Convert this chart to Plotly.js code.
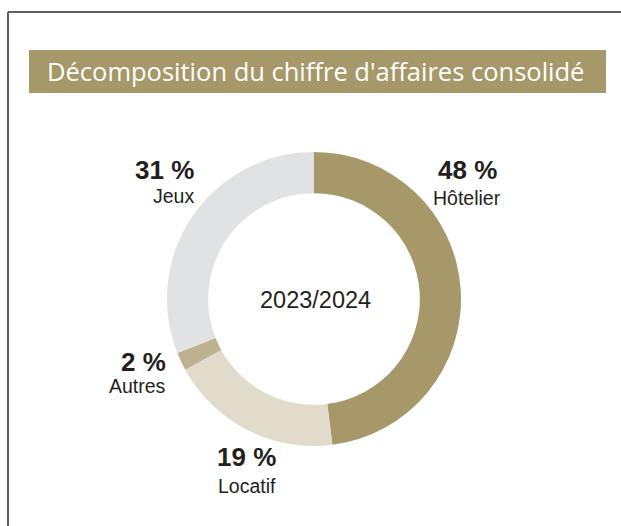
<!DOCTYPE html>
<html>
<head>
<meta charset="utf-8">
<script src="https://cdn.plot.ly/plotly-3.0.1.min.js"></script>
<style>
html,body{margin:0;padding:0;background:#fff;}
#chart{width:621px;height:526px;}
</style>
</head>
<body>
<div id="chart"></div>
<script>
const categories = ['Hôtelier', 'Locatif', 'Autres', 'Jeux'];
const shares = [48, 19, 2, 31];
const chartTitle = "Décomposition du chiffre d'affaires consolidé";
const centerLabel = '2023/2024';

const sliceColors = ['#a69869', '#e0dbca', '#bdb290', '#e1e2e4'];

const W = 621, H = 526;
const px = x => x / W;
const py = y => 1 - y / H;

// label placement (pixel positions of each label group)
const labelPos = [
  {x: 467, anchor: 'center', yPct: 170, yName: 198},
  {x: 278, anchor: 'right',  yPct: 457, yName: 486},
  {x: 168, anchor: 'right',  yPct: 362, yName: 386},
  {x: 196, anchor: 'right',  yPct: 170, yName: 196}
];

const sans = '"Liberation Sans", Arial, sans-serif';

const annotations = [];
categories.forEach((c, i) => {
  const p = labelPos[i];
  annotations.push({
    xref: 'paper', yref: 'paper', x: px(p.x), y: py(p.yPct),
    xanchor: p.anchor, yanchor: 'middle', showarrow: false,
    text: '<b>' + shares[i] + ' %</b>',
    font: {family: sans, size: 26, color: '#231f20'}
  });
  annotations.push({
    xref: 'paper', yref: 'paper', x: px(p.x), y: py(p.yName),
    xanchor: p.anchor, yanchor: 'middle', showarrow: false,
    text: c,
    font: {family: sans, size: 19.5, color: '#231f20'}
  });
});
annotations.push({
  xref: 'paper', yref: 'paper', x: px(315), y: py(300),
  xanchor: 'center', yanchor: 'middle', showarrow: false,
  text: centerLabel,
  font: {family: sans, size: 23.5, color: '#231f20'}
});
annotations.push({
  xref: 'paper', yref: 'paper', x: px(315), y: py(71),
  xanchor: 'center', yanchor: 'middle', showarrow: false,
  text: chartTitle,
  font: {family: '"Open Sans", "Noto Sans", sans-serif', size: 25.5, color: '#ffffff', weight: 500}
});

const shapes = [
  {type: 'line', xref: 'paper', yref: 'paper', x0: px(8), x1: px(621), y0: py(12), y1: py(12),
   line: {color: '#5f5f5f', width: 2}},
  {type: 'line', xref: 'paper', yref: 'paper', x0: px(8), x1: px(8), y0: py(12), y1: py(526),
   line: {color: '#5f5f5f', width: 2}},
  {type: 'rect', xref: 'paper', yref: 'paper', x0: px(29), x1: px(606), y0: py(50), y1: py(93),
   fillcolor: '#a69869', line: {width: 0}, layer: 'below'}
];

const trace = {
  type: 'pie',
  labels: categories,
  values: shares,
  sort: false,
  direction: 'clockwise',
  rotation: 0,
  hole: 0.72,
  marker: {colors: sliceColors, line: {width: 0}},
  textinfo: 'none',
  hoverinfo: 'none',
  showlegend: false,
  domain: {x: [px(167), px(461)], y: [py(446), py(152)]}
};

Plotly.newPlot('chart', [trace], {
  width: W, height: H,
  margin: {l: 0, r: 0, t: 0, b: 0},
  paper_bgcolor: '#ffffff',
  showlegend: false,
  annotations: annotations,
  shapes: shapes
}, {staticPlot: true, displayModeBar: false});
</script>
</body>
</html>
